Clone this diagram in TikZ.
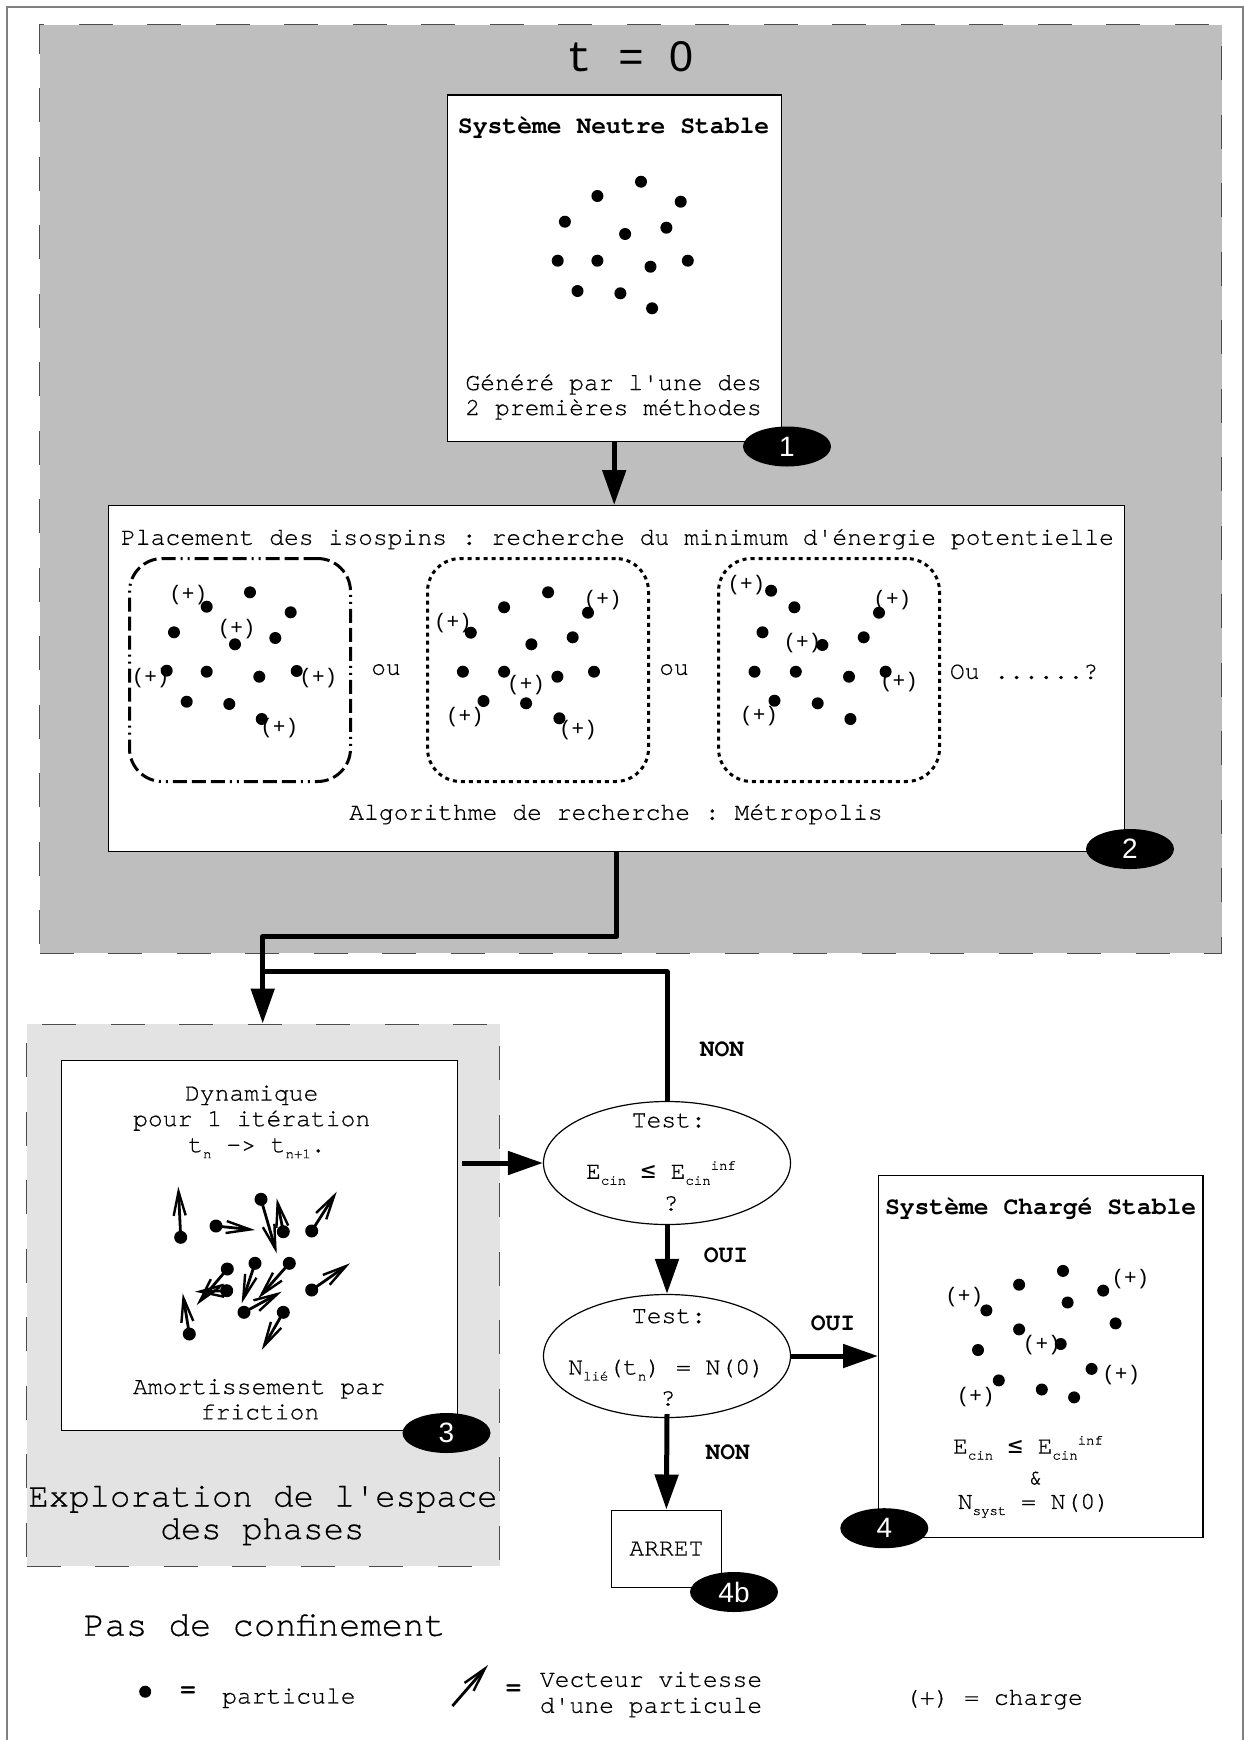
\documentclass[tikz,border=0pt]{standalone}
\usepackage{fontspec}
\setmainfont{TeX Gyre Cursor}[UprightFeatures={FakeBold=0.5}]
\newfontfamily\titlefont{Liberation Mono}
\newfontfamily\badgefont{Liberation Sans}
\newfontfamily\symfont{DejaVu Sans Mono}
\usetikzlibrary{arrows.meta,shapes.geometric}
\definecolor{bggray}{gray}{0.745}
\definecolor{lightbg}{gray}{0.89}
\definecolor{dashcol}{gray}{0.3}
\definecolor{framecol}{gray}{0.5}
\newcommand\mysub[1]{\raisebox{-6pt}{\fontsize{14}{14}\selectfont #1}}
\newcommand\mysup[1]{\raisebox{9pt}{\fontsize{14}{14}\selectfont #1}}
\newcommand\ap{\textquotesingle}
\frenchspacing
\begin{document}
\begin{tikzpicture}[x=1pt,y=-1pt,
  txt/.style={inner sep=0, text height=15pt, text depth=1.5pt, font=\fontsize{24.7}{28}\selectfont},
  btxt/.style={txt, font=\fontsize{24.7}{28}\selectfont\bfseries},
  bigtxt/.style={inner sep=0, text height=20pt, text depth=2pt, font=\fontsize{34}{38}\selectfont},
  plus/.style={inner sep=0, text height=13pt, text depth=2pt, font=\titlefont\fontsize{21}{23}\selectfont},
  badge/.style={ellipse, fill=black, minimum width=88pt, minimum height=40pt, inner sep=0, text=white, font=\badgefont\fontsize{28}{30}\selectfont},
  box/.style={draw, line width=1.2pt, fill=white, inner sep=0, anchor=north west},
  zone/.style={draw=dashcol, line width=1.3pt, dash pattern=on 34pt off 34.5pt, inner sep=0, anchor=north west},
  testell/.style={draw, ellipse, line width=1.2pt, fill=white, minimum width=247pt, minimum height=123pt, inner sep=0},
  conn/.style={line width=5pt, line join=round},
  arr/.style={conn, -{Triangle[length=35pt,width=23pt]}},
  vel/.style={line width=2.8pt, -{Straight Barb[length=24pt,width=12pt,line width=2.4pt]}},
  rbA/.style={draw, line width=3pt, rounded corners=33pt, inner sep=0, anchor=north west, minimum width=221pt, minimum height=223pt,
    dash pattern=on 14pt off 5pt on 14pt off 5pt on 14pt off 5pt on 2pt off 5pt on 2pt off 5pt},
  rbB/.style={draw, line width=3pt, rounded corners=33pt, inner sep=0, anchor=north west, minimum width=221pt, minimum height=223pt,
    dash pattern=on 4pt off 4pt}
]
\useasboundingbox (0,0) rectangle (1244,1740);
% frame
\draw[framecol, line width=1.5pt] (7,1740) -- (7,7) -- (1243,7) -- (1243,1740);

% zones
\node[zone, fill=bggray, minimum width=1182pt, minimum height=928.7pt] (zone0) at (39,24) {};
\node[zone, fill=lightbg, minimum width=473pt, minimum height=542pt] (explore) at (26,1023.5) {};
\node[inner sep=0, font=\titlefont\fontsize{43}{48}\selectfont] (tzero) at (630,57) {t = {\badgefont 0}};

% box 1
\node[box, minimum width=334pt, minimum height=346.7pt] (b1) at (446.6,94.3) {};
\node[btxt] (b1title) at (613.6,126.7) {Système Neutre Stable};
\node[txt] (b1l1) at (613.6,383.3) {Généré par l\ap une des};
\node[txt] (b1l2) at (613.6,408.3) {2 premières méthodes};
\foreach \x/\y in {641/181.7, 597.4/196, 680.7/201.7, 564.9/221.7, 625.1/234, 666.4/227.7, 557.7/260.7, 597.4/260.7, 650.5/266.7, 687.8/260.7, 577.5/291, 620.4/293.3, 652.1/308.3}
  \fill (\x,\y) circle (6pt);

% box 2
\node[box, minimum width=1016pt, minimum height=346pt] (b2) at (108,505) {};
\node[txt] (b2title) at (617.5,538) {Placement des isospins : recherche du minimum d\ap énergie potentielle};
\node[rbA] (optA) at (128,557) {};
\node[rbB] (optB) at (426,557) {};
\node[rbB] (optC) at (717,557) {};
\node[txt] (ou1) at (386,668) {ou};
\node[txt] (ou2) at (674,668) {ou};
\node[txt] (ou3) at (1024,672) {Ou ......?};
\node[txt] (b2algo) at (616,813) {Algorithme de recherche : Métropolis};
\foreach \x/\y [count=\i] in {188.3/595, 236.7/629, 150.7/677.7, 318.3/677.7, 279.3/728.3}
  \node[plus] (pa\i) at (\x,\y) {(+)};
\foreach \x/\y [count=\i] in {602.7/600, 452.9/623.3, 526.1/685, 464.9/716.7, 578/730}
  \node[plus] (pb\i) at (\x,\y) {(+)};
\foreach \x/\y [count=\i] in {746.4/585, 892.3/600, 802.4/643.3, 899/681.7, 759.1/716}
  \node[plus] (pc\i) at (\x,\y) {(+)};
\foreach \x/\y in {206.7/606.7, 250/592.3, 290.7/612.3, 174/632.3, 235/644.3, 275.3/638, 166.7/670.7, 206.7/671.7, 259.3/676.7, 296.7/671, 186.7/701.7, 229.3/704, 261.7/719,
  504.1/607.3, 548.1/592.3, 588/612.7, 470.8/632.7, 572.7/637.3, 531.4/644.3, 462.9/671.7, 504.1/671.7, 557.4/676.7, 594/671.7, 483.5/701, 526.1/703.3, 559.4/718.3,
  771.1/590.7, 794.4/607.3, 879/612.7, 762.5/632.3, 863.7/637.3, 822.4/645, 754.5/671.7, 795.8/671.7, 849/676.7, 885.6/671.7, 774.5/700.7, 817.7/703.3, 850.4/719}
  \fill (\x,\y) circle (6pt);

% box 3
\node[box, minimum width=396pt, minimum height=370.5pt] (b3) at (61,1059.5) {};
\node[txt] (b3l1) at (251.7,1093.8) {Dynamique};
\node[txt] (b3l2) at (251.7,1119.4) {pour 1 itération};
\node[txt] (b3l3) at (257,1145.4) {t\mysub{n} -> t\mysub{n+1}.};
\node[txt] (b3l4) at (259,1387.3) {Amortissement par};
\node[txt] (b3l5) at (260,1412.6) {friction};
\node[bigtxt] (expl1) at (263,1497.5) {Exploration de l\ap espace};
\node[bigtxt] (expl2) at (262.5,1530) {des phases};
\foreach \a/\b/\c/\d in {180.7/1237.3/178.3/1186.7, 216/1226/255/1230, 261/1199.3/276.7/1253.3, 283.3/1231.7/276.7/1198.3,
  311.7/1231/336.7/1191.7, 227.3/1269/196.7/1305, 226.7/1290.7/195/1291.7, 255/1263.3/241.7/1303.3, 289.3/1263.3/258.3/1298.3,
  244/1312.3/281.7/1291.7, 311.7/1290/350/1263.3, 189.3/1334/182.7/1293.3, 283.3/1312.3/261.7/1350}
{ \fill (\a,\b) circle (6.5pt); \draw[vel] (\a,\b) -- (\c,\d); }

% tests
\node[testell] (t1) at (667,1163) {};
\node[txt] (t1a) at (668.8,1120.6) {Test:};
\node[txt] (t1b) at (661,1172) {E\mysub{cin} {\symfont ≤} E\mysub{cin}\mysup{inf}};
\node[txt] (t1c) at (671,1203.6) {?};
\node[testell] (t2) at (667,1356) {};
\node[txt] (t2a) at (669,1316.3) {Test:};
\node[txt] (t2b) at (666.6,1367.7) {N\mysub{lié}(t\mysub{n}) = N(0)};
\node[txt] (t2c) at (668,1398.6) {?};

% box 4
\node[box, minimum width=324.4pt, minimum height=362pt] (b4) at (878,1175) {};
\node[btxt] (b4title) at (1040.6,1207.6) {Système Chargé Stable};
\foreach \x/\y [count=\i] in {1130.4/1278.8, 964.2/1296.6, 1041.8/1344.8, 1121.2/1374.9, 975.7/1396.6}
  \node[plus] (pd\i) at (\x,\y) {(+)};
\foreach \x/\y in {1063/1270.9, 1019.1/1284.7, 1103.2/1290.6, 986.4/1310.4, 1067.6/1302.5, 1115.6/1323.4, 1019.1/1329.4, 978/1350, 1060.7/1344, 1091.6/1368.9, 998.8/1380.4, 1041.8/1389.5, 1074.1/1397.4}
  \fill (\x,\y) circle (6pt);
\node[txt] (b4f1) at (1028,1446.8) {E\mysub{cin} {\symfont ≤} E\mysub{cin}\mysup{inf}};
\node[txt] (b4f2) at (1035.8,1477.7) {\&};
\node[txt] (b4f3) at (1034,1502.2) {N\mysub{syst} = N(0)};

% arret
\node[draw, line width=1.2pt, fill=white, minimum width=110pt, minimum height=77pt, inner sep=0, font=\fontsize{24.7}{28}\selectfont] (arret) at (666.4,1548.6) {ARRET};

% labels
\node[btxt] (lnon1) at (722,1049.4) {NON};
\node[btxt] (loui1) at (726,1256.2) {OUI};
\node[btxt] (loui2) at (833,1324.2) {OUI};
\node[btxt] (lnon2) at (727.8,1452.7) {NON};

% connectors
\coordinate (j1) at (262.7,936.5);
\coordinate (j2) at (262.7,971.7);
\coordinate (b3out) at ([xshift=4pt]b3.east);
\draw[arr] (b1.south) -- (b1.south |- b2.north);
\draw[conn] (t1.north) |- (j2);
\draw[arr] (b2.south) |- (j1) -- (j1 |- explore.north);
\draw[arr] (b3out |- t1.west) -- (t1.west);
\draw[arr] (t1.south) -- (t2.north);
\draw[arr] (t2.east) -- (t2.east -| b4.west);
\draw[arr] ([yshift=4pt]t2.south) -- (arret.north);

% badges
\node[badge] (n1) at (787,446.5) {1};
\node[badge] (n2) at (1130,849) {2};
\node[badge] (n3) at (446.5,1433) {3};
\node[badge] (n4) at (884.3,1528.2) {4};
\node[badge] (n4b) at (734,1592) {4b};

% legend
\node[bigtxt, anchor=west, font=\fontsize{35.5}{38}\selectfont] (pasconf) at (83.3,1626.7) {Pas de confinement};
\fill (145.2,1691.7) circle (6pt);
\node[btxt] (legeq1) at (188,1690) {=};
\node[txt, anchor=west] (legpart) at (222,1696.7) {particule};
\draw[vel] (452.4,1706) -- (488,1665);
\node[btxt] (legeq2) at (513.5,1688) {=};
\node[txt, anchor=west] (legvec1) at (539.7,1680) {Vecteur vitesse};
\node[txt, anchor=west] (legvec2) at (539.7,1706) {d\ap une particule};
\node[txt, anchor=west] (legcharge) at (904.8,1698) {(+) = charge};
\end{tikzpicture}
\end{document}
